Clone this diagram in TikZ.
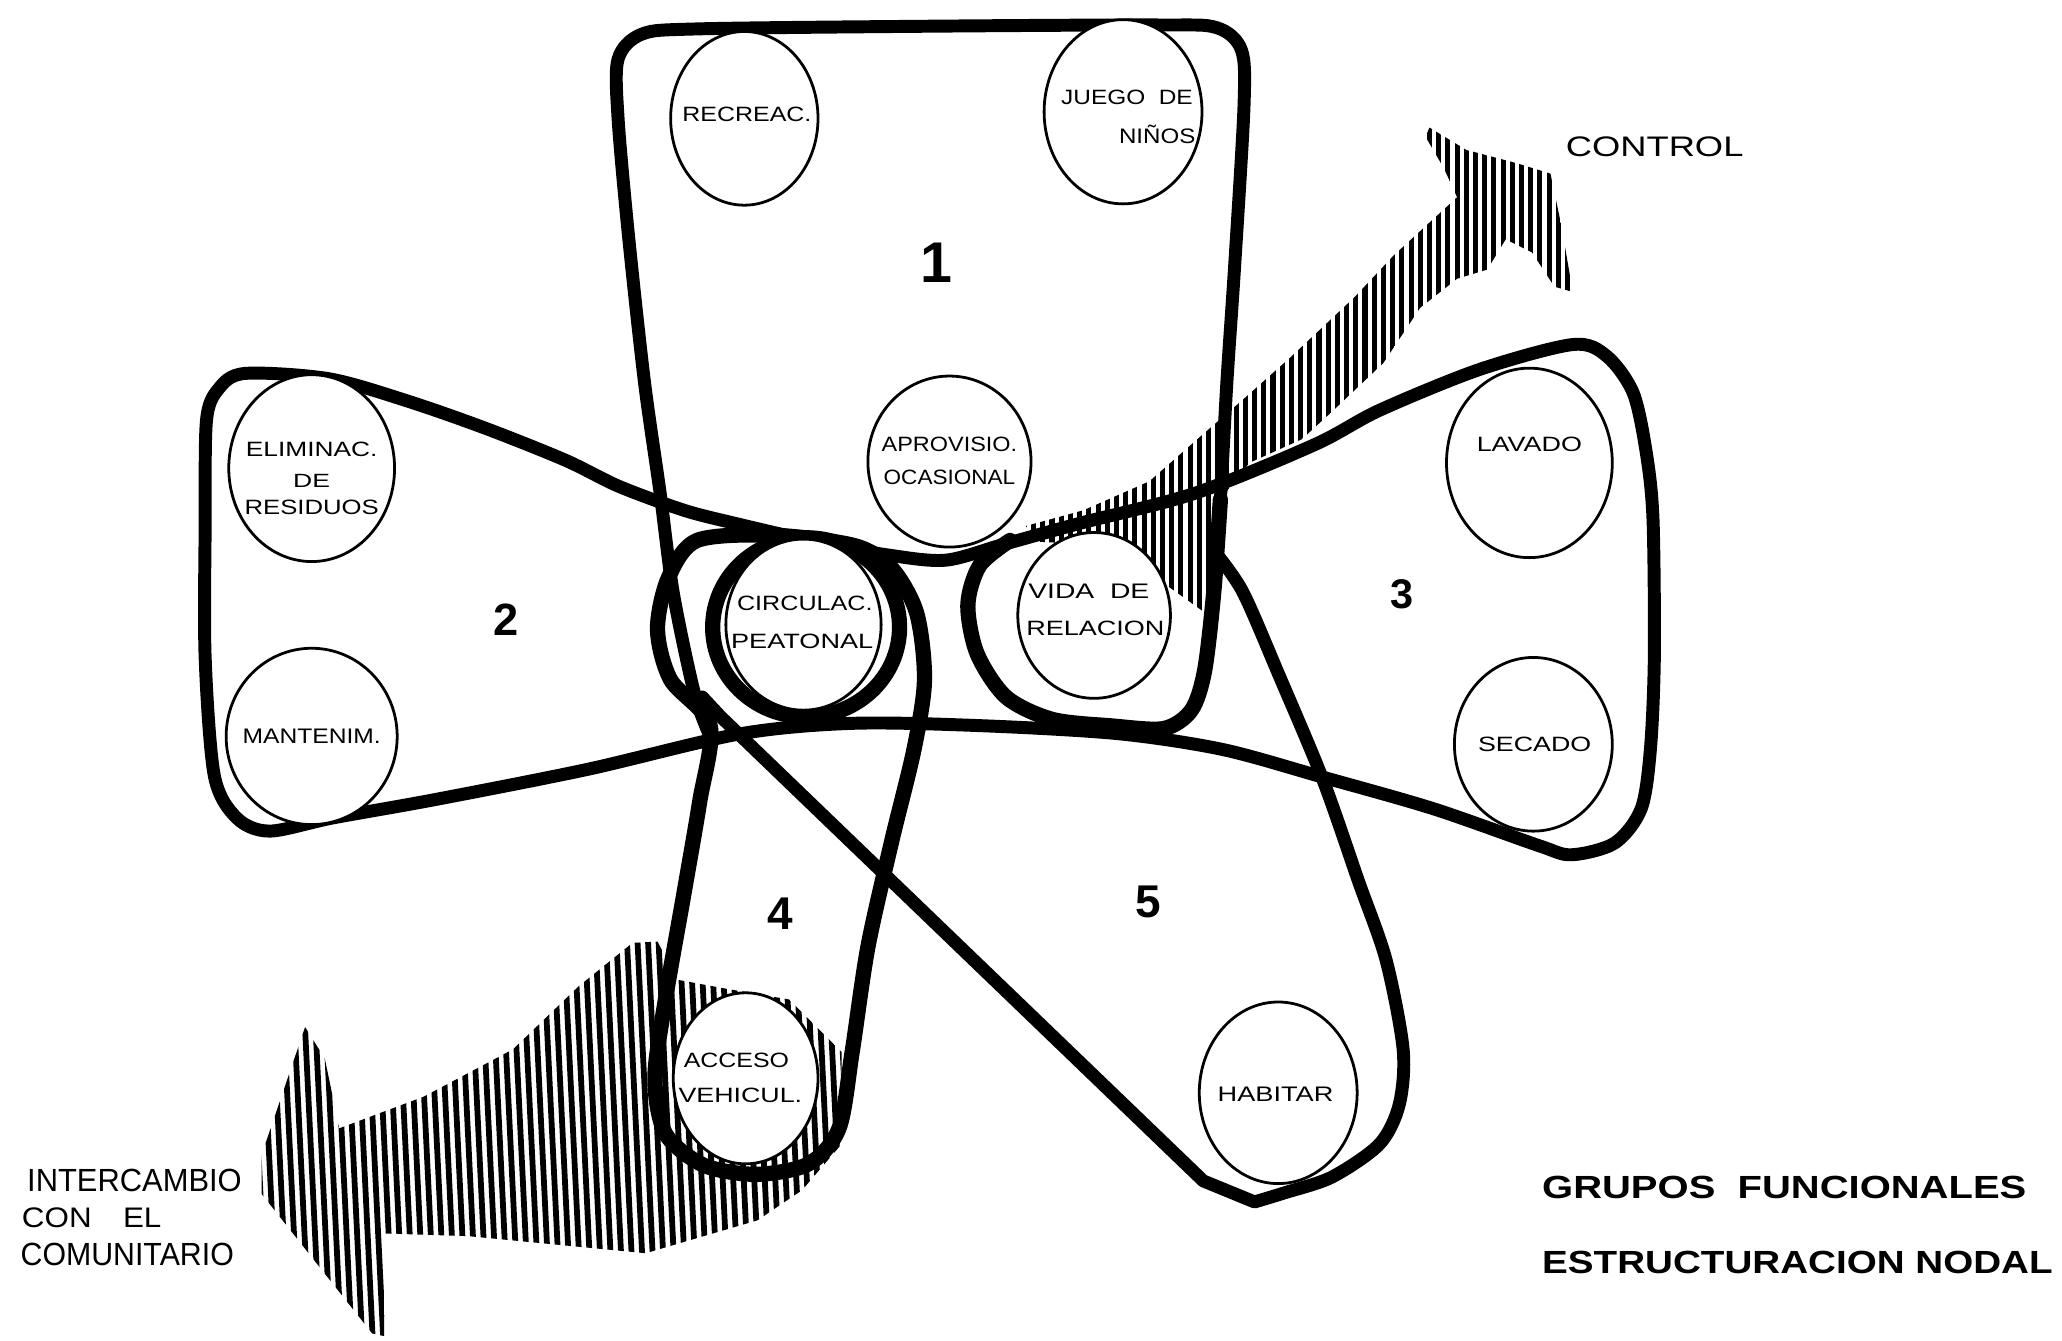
\documentclass[tikz,border=0pt]{standalone}
\usepackage{fontspec}
\setsansfont{Liberation Sans}
\usetikzlibrary{shapes.geometric}
\newcommand{\lbl}[3]{\resizebox{#1cm}{#2cm}{\sffamily #3}}
\newcommand{\lblb}[3]{\resizebox{#1cm}{#2cm}{\sffamily\bfseries #3}}
\begin{document}
\begin{tikzpicture}[x=0.01cm,y=-0.01cm,
  grp/.style={draw=black,line width=2.8pt,line join=round,line cap=round},
  grpheavy/.style={draw=black,line width=3.3pt,line join=round,line cap=round},
  hatchA/.style={line width=1.25pt},
  hatchB/.style={line width=1.1pt},
  func/.style={draw=black,ellipse,line width=0.6pt,fill=white,inner sep=0pt,outer sep=0pt},
  txt/.style={inner sep=0pt,anchor=center},
  txtl/.style={inner sep=0pt,anchor=west}]
\useasboundingbox[fill=white] (0,0) rectangle (1568,1019);

% ---- hatched arrow INTERCAMBIO ----
\begin{scope}
\clip (199,878) -- (232,781) -- (247,805) -- (258,858) -- (322,834) -- (390,798) -- (440,750) -- (481,717) -- (500,716) -- (515,745) -- (553,752) -- (600,760) -- (640,800) -- (640,870) -- (610,905) -- (576,928) -- (491,953) -- (356,940) -- (293,938) -- (292,1016) -- (283,1014) -- (199,908) -- cycle;
\foreach \x in {180,188,...,660} \draw[hatchA] (\x,700) -- (\x+16,1030);
\end{scope}

% ---- hatched arrow CONTROL ----
\begin{scope}
\clip (780,400) -- (824,388) -- (874,366) -- (915,330) -- (945,304) -- (981,272) -- (1030,226) -- (1060,194) -- (1108,150) -- (1098,128) -- (1084,104) -- (1087,97) -- (1115,114) -- (1153,124) -- (1179,132) -- (1187,170) -- (1196,222) -- (1182,218) -- (1165,192) -- (1145,182) -- (1131,205) -- (1108,212) -- (1080,234) -- (1052,276) -- (1014,312) -- (990,334) -- (950,352) -- (928,380) -- (922,470) -- (880,440) -- (850,415) -- (790,412) -- cycle;
\foreach \x in {772,779,...,1200} \draw[hatchB] (\x,80) -- (\x,480);
\end{scope}

% ---- group outlines ----
% group 1
\draw[grp] plot[smooth,tension=0.5] coordinates {(540,560) (528,527) (512,451) (502,375) (490,290) (478,180) (470,90) (470,45) (488,26) (530,22) (700,20) (880,19) (925,21) (944,38) (946,80) (939,200) (933,290) (928,380) (923,450)};
\draw[grpheavy] plot[smooth,tension=0.5] coordinates {(928,380) (923,450) (916,510) (906,540) (885,554) (845,552) (800,547) (765,530) (743,497) (736,460) (745,430) (768,411)};
% groups 2 and 3 (bow tie)
\draw[grp] plot[smooth cycle,tension=0.5] coordinates {(157,320) (166,296) (186,284) (250,288) (310,305) (370,326) (430,350) (471,370) (520,388) (559,398) (620,412) (675,422) (719,426) (763,414) (821,398) (909,375) (1000,338) (1049,312) (1125,281) (1196,262) (1222,271) (1242,299) (1252,345) (1257,395) (1258,500) (1255,570) (1248,615) (1228,641) (1195,650) (1170,643) (1090,615) (1006,591) (930,570) (851,558) (750,552) (650,550) (563,558) (447,585) (331,608) (253,622) (205,632) (180,622) (163,590) (156,500) (156,400)};
% group 4
\draw[grpheavy] plot[smooth cycle,tension=0.5] coordinates {(540,552) (532,610) (520,680) (506,760) (498,820) (506,862) (535,886) (575,893) (615,885) (638,858) (648,800) (660,720) (678,640) (695,570) (703,517) (697,466) (678,432) (650,415) (588,407) (530,411) (508,440) (500,479) (510,517)};
% ring round circulacion peatonal
\draw[grpheavy] (613,477) ellipse [x radius=0.71cm,y radius=0.68cm];
% group 5
\draw[grp] plot[smooth,tension=0.5] coordinates {(924,420) (945,450) (972,512) (1006,593) (1033,670) (1054,730) (1067,798) (1064,840) (1049,870) (1013,895) (977,907) (954,914)} -- (915,898) -- (548,545) -- (534,530);

% ---- functions ----
\node[func,minimum width=1.12cm,minimum height=1.32cm] (recreac) at (566,90) {};
\node[func,minimum width=1.20cm,minimum height=1.40cm] (juego) at (854,85) {};
\node[func,minimum width=1.24cm,minimum height=1.30cm] (aprov) at (722,351) {};
\node[func,minimum width=1.26cm,minimum height=1.42cm] (elim) at (237,356) {};
\node[func,minimum width=1.30cm,minimum height=1.34cm] (mant) at (237,560) {};
\node[func,minimum width=1.18cm,minimum height=1.30cm] (circ) at (611,475) {};
\node[func,minimum width=1.16cm,minimum height=1.26cm] (vida) at (832,468) {};
\node[func,minimum width=1.26cm,minimum height=1.44cm] (lavado) at (1163,352) {};
\node[func,minimum width=1.20cm,minimum height=1.32cm] (secado) at (1166,566) {};
\node[func,minimum width=1.10cm,minimum height=1.30cm] (acceso) at (567,820) {};
\node[func,minimum width=1.20cm,minimum height=1.38cm] (habitar) at (972,831) {};

% ---- labels ----
\node[txt] (trecreac) at (568,87) {\lbl{0.98}{0.11}{RECREAC.}};
\node[txt] (tjuego) at (857,74) {\lbl{1.00}{0.11}{JUEGO\ \ DE}};
\node[txt] (tninos) at (880,102) {\lbl{0.58}{0.14}{NIÑOS}};
\node[txt] (taprov) at (722,338) {\lbl{1.03}{0.11}{APROVISIO.}};
\node[txt] (tocas) at (722,363) {\lbl{1.00}{0.11}{OCASIONAL}};
\node[txt] (telim) at (237,342) {\lbl{1.00}{0.11}{ELIMINAC.}};
\node[txt] (tde) at (237,366) {\lbl{0.28}{0.10}{DE}};
\node[txt] (tresid) at (237,386) {\lbl{1.02}{0.11}{RESIDUOS}};
\node[txt] (tmant) at (237,560) {\lbl{1.05}{0.11}{MANTENIM.}};
\node[txt] (tcirc) at (612,459) {\lbl{1.03}{0.11}{CIRCULAC.}};
\node[txt] (tpeat) at (610,488) {\lbl{1.08}{0.11}{PEATONAL}};
\node[txt] (tvida) at (828,450) {\lbl{0.92}{0.11}{VIDA\ \ DE}};
\node[txt] (trel) at (833,478) {\lbl{1.05}{0.11}{RELACION}};
\node[txt] (tlavado) at (1163,338) {\lbl{0.80}{0.11}{LAVADO}};
\node[txt] (tsecado) at (1167,566) {\lbl{0.86}{0.11}{SECADO}};
\node[txt] (tacceso) at (560,806) {\lbl{0.80}{0.11}{ACCESO}};
\node[txt] (tvehic) at (563,833) {\lbl{0.94}{0.11}{VEHICUL.}};
\node[txt] (thabitar) at (970,832) {\lbl{0.88}{0.11}{HABITAR}};

% ---- group numbers ----
\node[txt] (n1) at (712,200) {\resizebox{!}{0.30cm}{\sffamily\bfseries 1}};
\node[txt] (n2) at (385,471) {\resizebox{!}{0.24cm}{\sffamily\bfseries 2}};
\node[txt] (n3) at (1066,452) {\resizebox{!}{0.22cm}{\sffamily\bfseries 3}};
\node[txt] (n4) at (593,695) {\resizebox{!}{0.24cm}{\sffamily\bfseries 4}};
\node[txt] (n5) at (873,686) {\resizebox{!}{0.24cm}{\sffamily\bfseries 5}};

% ---- other texts ----
\node[txtl] (tcontrol) at (1190,112) {\lbl{1.35}{0.15}{CONTROL}};
\node[txtl] (tinter) at (20,898) {\lbl{1.63}{0.17}{INTERCAMBIO}};
\node[txtl] (tcon) at (16,926) {\lbl{1.06}{0.15}{CON\quad EL}};
\node[txtl] (tcomu) at (15,954) {\lbl{1.62}{0.17}{COMUNITARIO}};
\node[txtl] (tgrupos) at (1172,903) {\lblb{3.68}{0.17}{GRUPOS\ \ FUNCIONALES}};
\node[txtl] (testr) at (1172,960) {\lblb{3.88}{0.17}{ESTRUCTURACION NODAL}};
\end{tikzpicture}
\end{document}
